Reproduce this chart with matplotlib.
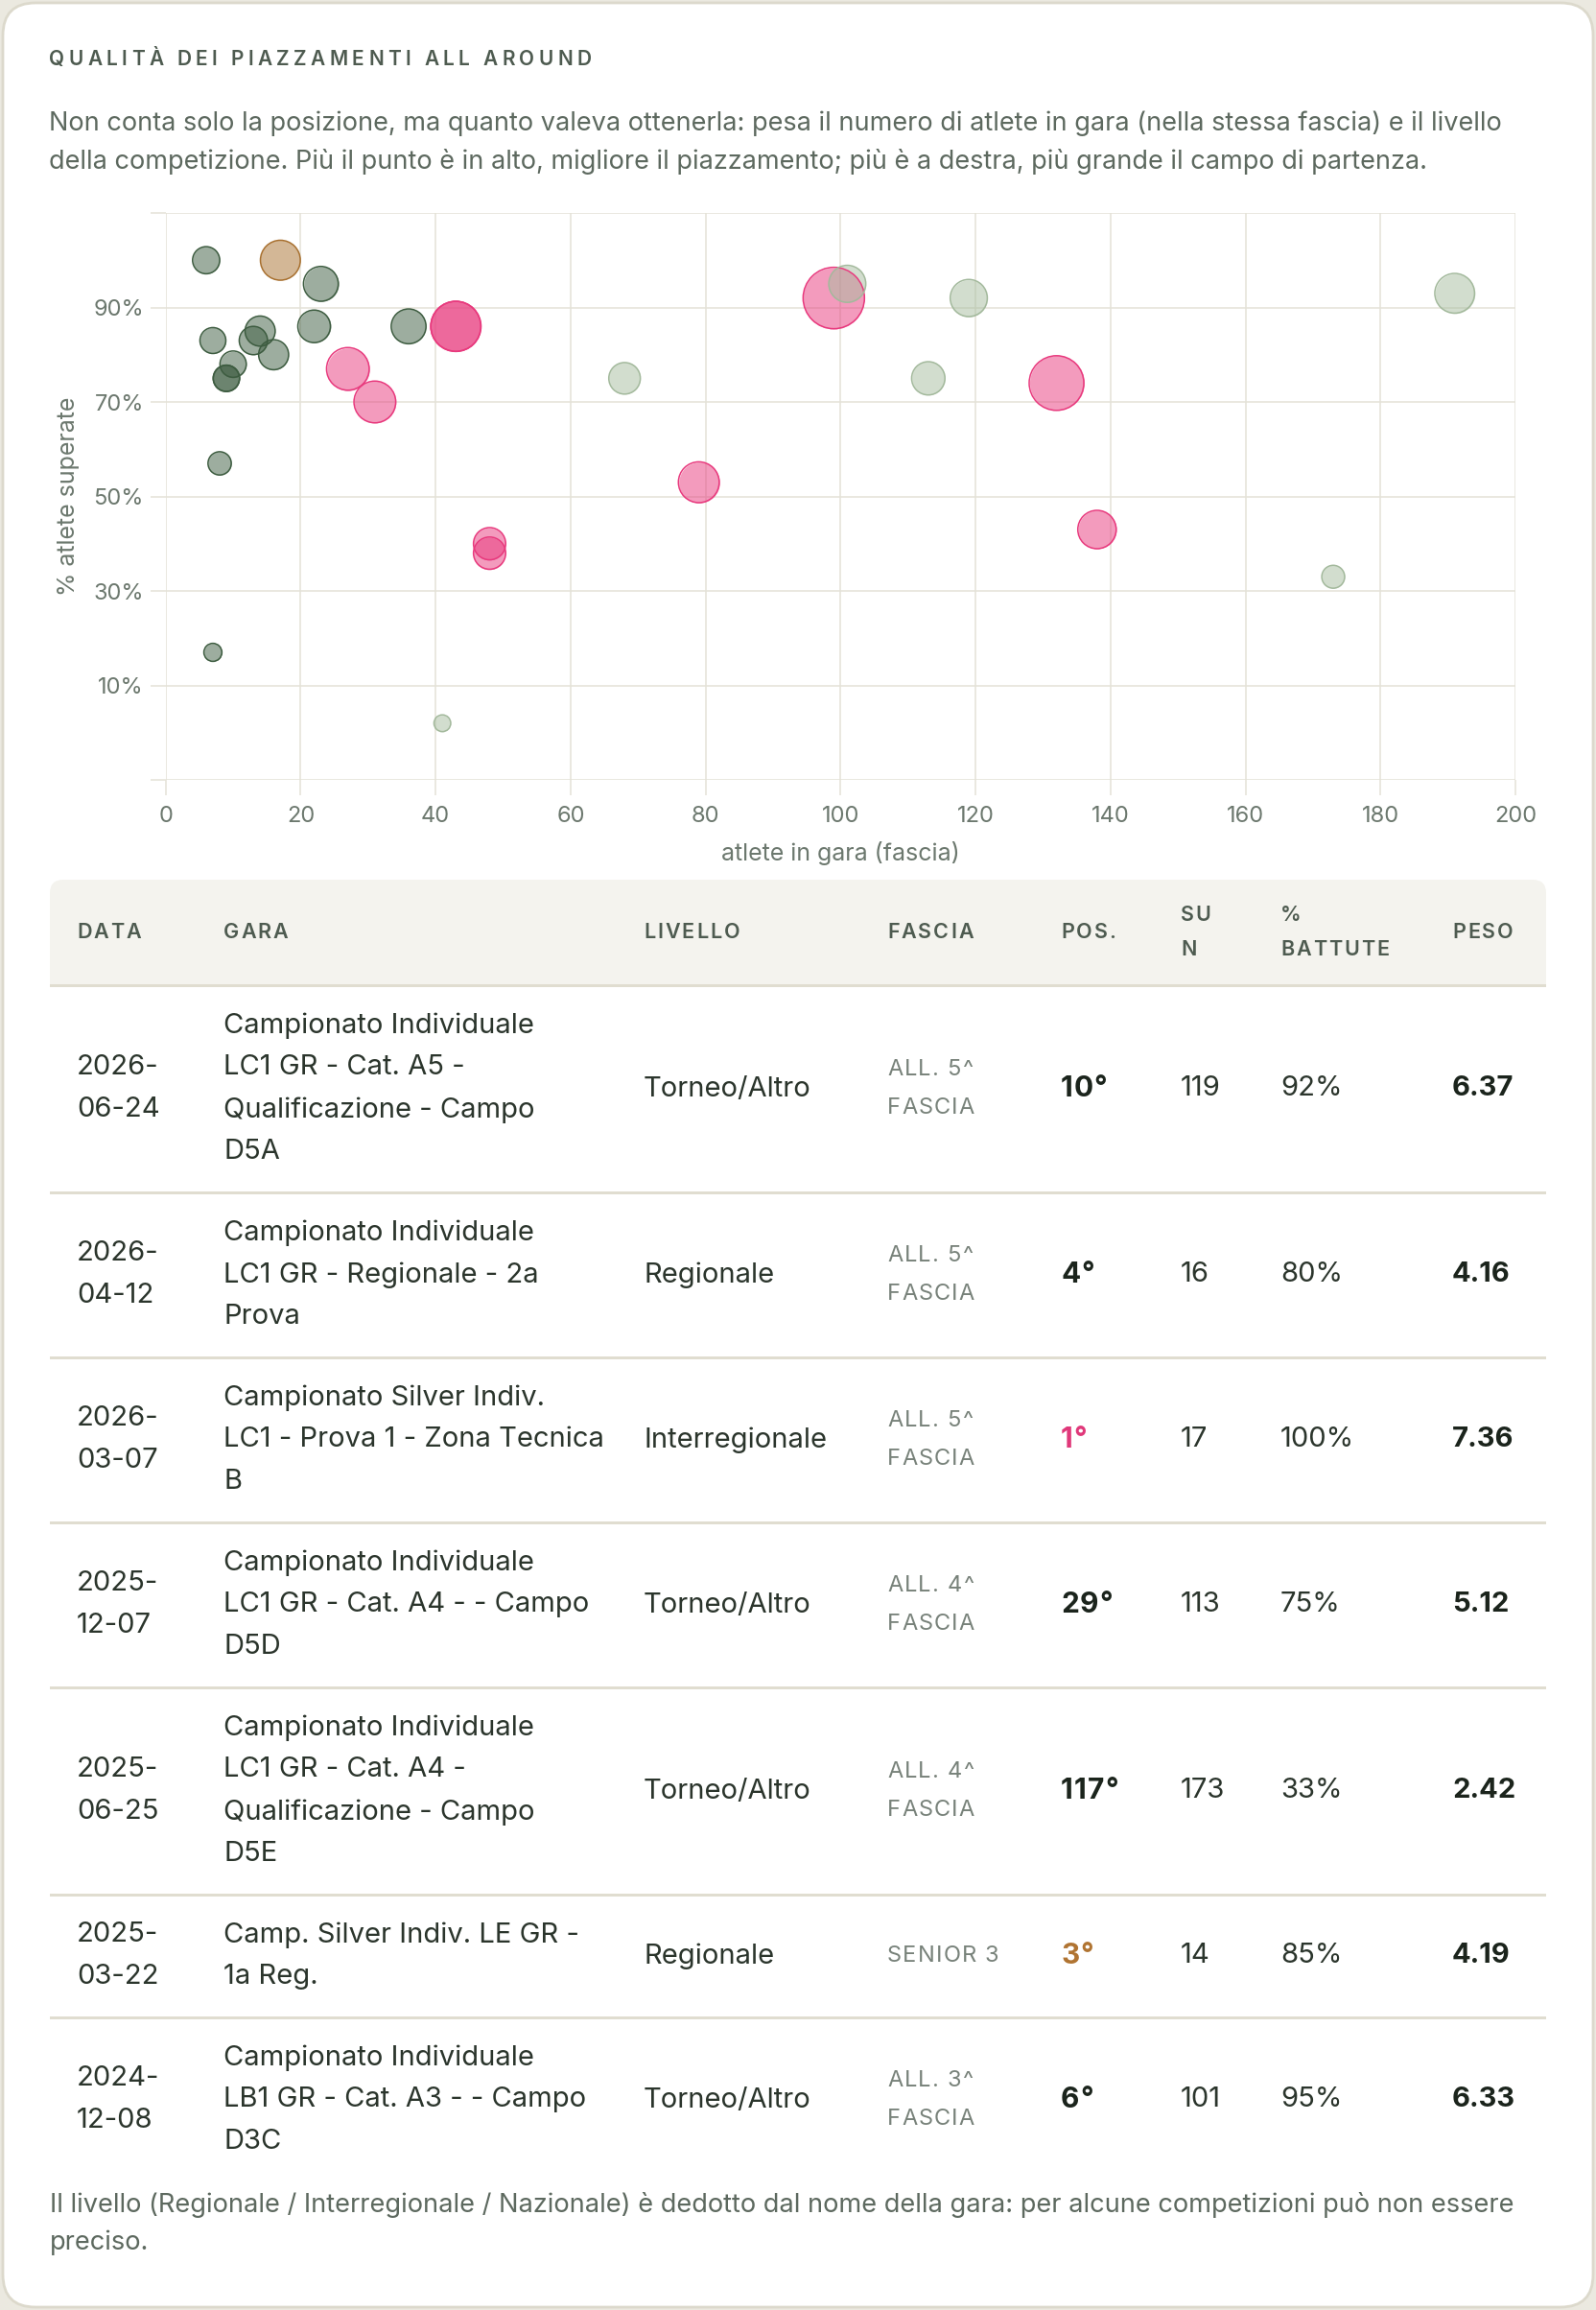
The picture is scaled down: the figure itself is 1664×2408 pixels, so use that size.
import matplotlib
matplotlib.use('Agg')
import matplotlib.pyplot as plt
from matplotlib.patches import FancyBboxPatch, Rectangle
from matplotlib.transforms import IdentityTransform
from matplotlib.font_manager import FontProperties

W, H = 1664, 2408
FONT = ['Inter', 'DejaVu Sans']
plt.rcParams['font.family'] = FONT

# --- scatter: one point per gara ---
atlete = [6, 17, 23, 7, 14, 13, 16, 10, 9, 9, 22, 36, 43, 43, 27, 31, 8, 48, 48,
          68, 7, 41, 99, 101, 119, 191, 113, 132, 79, 138, 173]
pct = [100, 100, 95, 83, 85, 83, 80, 78, 75, 75, 86, 86, 86, 86, 77, 70, 57, 40, 38,
       75, 17, 2, 92, 95, 92, 93, 75, 74, 53, 43, 33]
peso = [3.4, 7.36, 5.6, 3.1, 4.19, 3.7, 4.16, 3.2, 3.2, 3.2, 4.9, 5.6, 11.6, 11.6, 8.4, 8.05, 2.5, 4.8, 4.8,
        4.6, 1.5, 1.3, 17.4, 6.33, 6.37, 7.3, 5.12, 13.8, 7.7, 6.8, 2.42]
livello = ['Regionale', 'Interregionale', 'Regionale', 'Regionale', 'Regionale', 'Regionale', 'Regionale',
           'Regionale', 'Regionale', 'Regionale', 'Regionale', 'Regionale', 'Nazionale', 'Nazionale',
           'Nazionale', 'Nazionale', 'Regionale', 'Nazionale', 'Nazionale', 'Torneo/Altro', 'Regionale',
           'Torneo/Altro', 'Nazionale', 'Torneo/Altro', 'Torneo/Altro', 'Torneo/Altro', 'Torneo/Altro',
           'Nazionale', 'Nazionale', 'Nazionale', 'Torneo/Altro']

x_ticks = list(range(0, 201, 20))
y_ticks = list(range(-10, 111, 20))
y_ticklabels = ['' if v < 0 or v > 100 else f'{v}%' for v in y_ticks]

# --- table ---
date = ['2026-06-24', '2026-04-12', '2026-03-07', '2025-12-07', '2025-06-25', '2025-03-22', '2024-12-08']
gara = ['Campionato Individuale\nLC1 GR - Cat. A5 -\nQualificazione - Campo\nD5A',
        'Campionato Individuale\nLC1 GR - Regionale - 2a\nProva',
        'Campionato Silver Indiv.\nLC1 - Prova 1 - Zona Tecnica\nB',
        'Campionato Individuale\nLC1 GR - Cat. A4 - - Campo\nD5D',
        'Campionato Individuale\nLC1 GR - Cat. A4 -\nQualificazione - Campo\nD5E',
        'Camp. Silver Indiv. LE GR -\n1a Reg.',
        'Campionato Individuale\nLB1 GR - Cat. A3 - - Campo\nD3C']
liv_tab = ['Torneo/Altro', 'Regionale', 'Interregionale', 'Torneo/Altro', 'Torneo/Altro', 'Regionale', 'Torneo/Altro']
fascia = ['ALL. 5^\nFASCIA', 'ALL. 5^\nFASCIA', 'ALL. 5^\nFASCIA', 'ALL. 4^\nFASCIA', 'ALL. 4^\nFASCIA',
          'SENIOR 3', 'ALL. 3^\nFASCIA']
pos = [10, 4, 1, 29, 117, 3, 6]
su_n = [119, 16, 17, 113, 173, 14, 101]
battute = [92, 80, 100, 75, 33, 85, 95]
peso_tab = [6.37, 4.16, 7.36, 5.12, 2.42, 4.19, 6.33]
headers = ['DATA', 'GARA', 'LIVELLO', 'FASCIA', 'POS.', 'SU\nN', '%\nBATTUTE', 'PESO']

title = 'QUALITÀ DEI PIAZZAMENTI ALL AROUND'
desc = ['Non conta solo la posizione, ma quanto valeva ottenerla: pesa il numero di atlete in gara (nella stessa fascia) e il livello',
        'della competizione. Più il punto è in alto, migliore il piazzamento; più è a destra, più grande il campo di partenza.']
note = ['Il livello (Regionale / Interregionale / Nazionale) è dedotto dal nome della gara: per alcune competizioni può non essere',
        'preciso.']

colors = {'Regionale': ('#3d5c40', '#3d5c40'),
          'Torneo/Altro': ('#a6bd9f', '#a3b99c'),
          'Interregionale': ('#a8702f', '#a8702f'),
          'Nazionale': ('#e8397d', '#e8397d')}

GRID = '#e4e2d7'
MUTED = '#6c786e'
HEAD = '#4e5b50'
BODY = '#2b352c'
DARK = '#1b241c'

fig = plt.figure(figsize=(W / 100, H / 100), dpi=100)
fig.patch.set_facecolor('#ebe9e0')
ID = IdentityTransform()


def txt(x, y, s, **kw):
    # x, y in pixels from top-left
    return fig.text(x, H - y, s, transform=ID, **kw)


def spaced(x, y, s, spacing, size, color, weight='normal', va='center'):
    r = fig.canvas.get_renderer()
    fp = FontProperties(family=FONT, size=size, weight=weight)
    bar = r.get_text_width_height_descent('|', fp, ismath=False)[0]
    for i, c in enumerate(s):
        adv = r.get_text_width_height_descent(s[:i] + '|', fp, ismath=False)[0] - bar
        txt(x + adv + i * spacing, y, c, fontsize=size, color=color, fontweight=weight, va=va)


card = FancyBboxPatch((3, 3), W - 6, H - 6, boxstyle='round,pad=0,rounding_size=34',
                      transform=ID, fc='white', ec='#dcd9cc', lw=2, zorder=-5)
fig.add_artist(card)

spaced(51, 62, title, 4.4, 15, HEAD, weight='semibold')
for i, line in enumerate(desc):
    txt(51, 129 + i * 40, line, fontsize=19.5, color='#5d695f', va='center')

# --- bubble chart ---
ax = fig.add_axes([172.7 / W, 1 - 813 / H, (1580 - 172.7) / W, (813 - 222) / H])
ax.set_xlim(0, 200)
ax.set_ylim(-10, 110)
for s in ax.spines.values():
    s.set_visible(False)
ax.set_xticks(x_ticks)
ax.set_yticks(y_ticks)
ax.set_yticklabels(y_ticklabels)
ax.grid(True, color=GRID, lw=1.1)
ax.set_axisbelow(True)
ax.tick_params(length=11.5, width=1.1, color=GRID, labelcolor=MUTED, labelsize=17, pad=5)
ax.tick_params(axis='x', pad=8)
ax.set_xlabel('atlete in gara (fascia)', fontsize=18, color=MUTED)
ax.set_ylabel('% atlete superate', fontsize=18, color=MUTED)
ax.xaxis.set_label_coords(0.5, -0.108)
ax.yaxis.set_label_coords(-0.064, 0.5)
ax.patch.set_alpha(0)

order = sorted(range(len(atlete)), key=lambda i: -peso[i])
for i in order:
    fc, ec = colors[livello[i]]
    ax.scatter(atlete[i], pct[i], s=122 * peso[i], color=fc, alpha=0.5, lw=0, zorder=3)
    ax.scatter(atlete[i], pct[i], s=122 * peso[i], facecolor='none', edgecolor=ec, lw=1.1, zorder=4)

# --- table ---
col_x = [80, 233, 671, 925, 1106, 1231, 1335, 1514]
head_top, head_bot = 917, 1027
hdr = FancyBboxPatch((52, H - head_bot), 1560, head_bot - head_top, boxstyle='round,pad=0,rounding_size=14',
                     transform=ID, fc='#f4f3ee', ec='none', zorder=-4)
fig.add_artist(hdr)
fig.add_artist(Rectangle((52, H - head_bot), 1560, 20, transform=ID, fc='#f4f3ee', ec='none', zorder=-4))
for h, x in zip(headers, col_x):
    lines = h.split('\n')
    for k, ln in enumerate(lines):
        y = 972 + (k - (len(lines) - 1) / 2) * 35
        spaced(x, y, ln, 2.0, 15.5, HEAD, weight='semibold')
fig.add_artist(Rectangle((52, H - head_bot - 1.5), 1560, 3, transform=ID, fc='#e0ddd0', ec='none', zorder=-3))

row_lines = [len(g.split('\n')) for g in gara]
top = head_bot
LS = 44
FS = 21
for r in range(len(gara)):
    n = max(row_lines[r], 2)
    bot = top + 40 + n * LS
    cy = (top + bot) / 2
    d = date[r]
    for k, ln in enumerate([d[:5], d[5:]]):
        txt(col_x[0], cy + (k - 0.5) * LS, ln, fontsize=FS, color=BODY, va='center')
    gl = gara[r].split('\n')
    for k, ln in enumerate(gl):
        txt(col_x[1], cy + (k - (len(gl) - 1) / 2) * LS, ln, fontsize=FS, color=BODY, va='center')
    txt(col_x[2], cy, liv_tab[r], fontsize=FS, color=BODY, va='center')
    fl = fascia[r].split('\n')
    for k, ln in enumerate(fl):
        spaced(col_x[3], cy + (k - (len(fl) - 1) / 2) * 40, ln, 1.2, 17, '#78827a')
    pc = '#e0387a' if pos[r] == 1 else ('#b07432' if pos[r] == 3 else DARK)
    spaced(col_x[4], cy, f'{pos[r]}°', 1.0, 21.5, pc, weight='bold')
    txt(col_x[5], cy, str(su_n[r]), fontsize=FS, color=BODY, va='center')
    txt(col_x[6], cy, f'{battute[r]}%', fontsize=FS, color=BODY, va='center')
    txt(col_x[7], cy, f'{peso_tab[r]:.2f}', fontsize=FS, color=DARK, fontweight='bold', va='center')
    if r < len(gara) - 1:
        fig.add_artist(Rectangle((52, H - bot - 1.5), 1560, 3, transform=ID, fc='#e0ddd0', ec='none', zorder=-3))
    top = bot

for i, line in enumerate(note):
    txt(52, 2298 + i * 40, line, fontsize=19.6, color='#5d695f', va='center')

fig.savefig('out.png', dpi=100, facecolor=fig.get_facecolor())
